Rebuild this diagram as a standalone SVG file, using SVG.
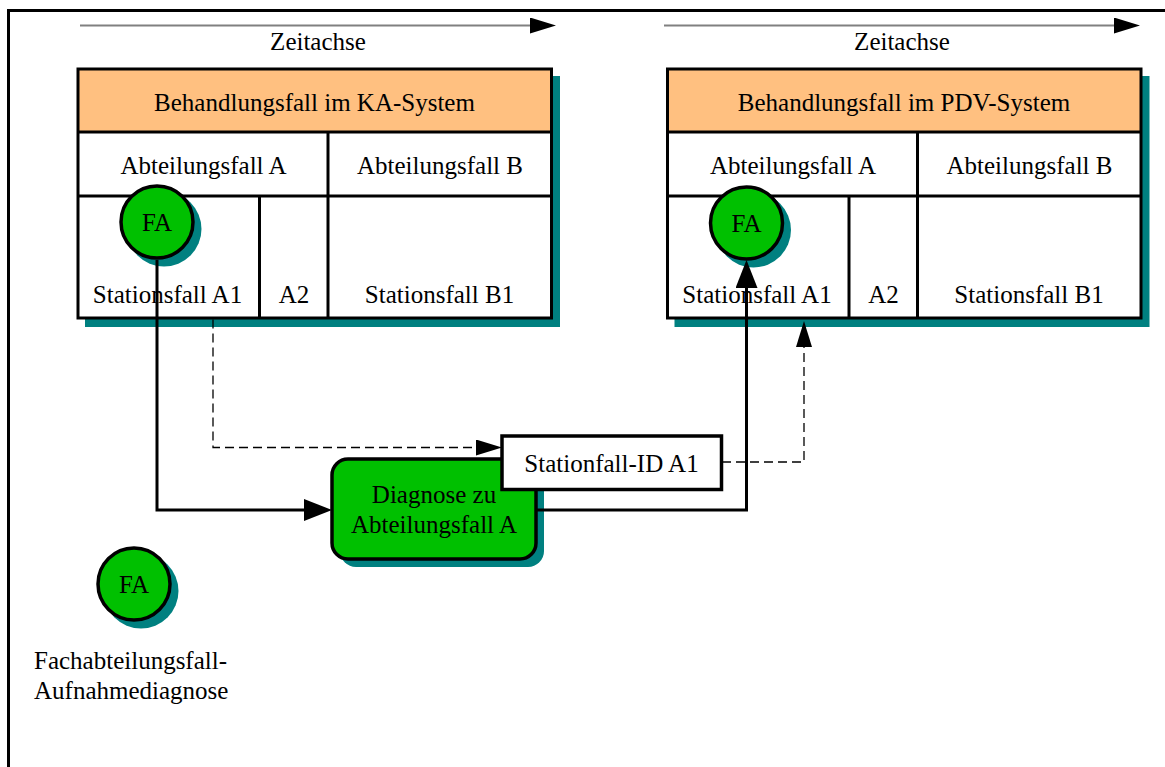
<svg xmlns="http://www.w3.org/2000/svg" width="1165" height="767" viewBox="0 0 1165 767">
  <style>
    .t { font-family: "Liberation Serif", "Times New Roman", serif; font-size: 25px; fill: #000; text-anchor: middle; }
    .tl { text-anchor: start; }
    .edge { fill: none; stroke: #000; stroke-width: 3; }
    .shadow { fill: #008080; stroke: none; }
    .head { fill: #FFC080; stroke: none; }
    .cell { fill: #FFFFFF; stroke: none; }
    .frame { fill: none; stroke: #000; stroke-width: 3; }
    .green { fill: #00C000; stroke: #000; stroke-width: 3.5; }
    .axis { fill: none; stroke: #808080; stroke-width: 2; }
    .flow { fill: none; stroke: #000; stroke-width: 3; }
    .dash { fill: none; stroke: #000; stroke-width: 1.3; stroke-dasharray: 9 5; }
  </style>
  <defs>
    <marker id="axisHead" markerUnits="userSpaceOnUse" viewBox="0 0 26 16" markerWidth="26" markerHeight="16" refX="0" refY="8" orient="auto">
      <path d="M0,0 L26,8 L0,16 Z" fill="#000"/>
    </marker>
    <marker id="flowHead" markerUnits="userSpaceOnUse" viewBox="0 0 28 22" markerWidth="28" markerHeight="22" refX="0" refY="11" orient="auto">
      <path d="M0,0 L28,11 L0,22 Z" fill="#000"/>
    </marker>
    <marker id="dashHead" markerUnits="userSpaceOnUse" viewBox="0 0 26 16" markerWidth="26" markerHeight="16" refX="0" refY="8" orient="auto">
      <path d="M0,0 L26,8 L0,16 Z" fill="#000"/>
    </marker>
  </defs>

  <rect width="1165" height="767" fill="#FFFFFF"/>
  <!-- page frame -->
  <path class="frame" d="M8.5,767 V10.5 H1165"/>

  <!-- time axes -->
  <g id="axis-ka">
    <line class="axis" x1="80" y1="25.5" x2="530" y2="25.5" marker-end="url(#axisHead)"/>
    <text class="t" x="318" y="50">Zeitachse</text>
  </g>
  <g id="axis-pdv">
    <line class="axis" x1="664" y1="25.5" x2="1114" y2="25.5" marker-end="url(#axisHead)"/>
    <text class="t" x="902" y="50">Zeitachse</text>
  </g>

  <!-- treatment case in the KA system -->
  <g id="case-ka">
    <rect class="shadow" x="85" y="76" width="475" height="251"/>
    <rect class="cell" x="78" y="69" width="473.5" height="249"/>
    <rect class="head" x="78" y="69" width="473.5" height="63"/>
    <rect class="edge" x="78" y="69" width="473.5" height="249"/>
    <line class="edge" x1="78" y1="132" x2="551.5" y2="132"/>
    <line class="edge" x1="78" y1="196" x2="551.5" y2="196"/>
    <line class="edge" x1="328" y1="132" x2="328" y2="318"/>
    <line class="edge" x1="259.5" y1="196" x2="259.5" y2="318" stroke-width="4.5"/>
    <text class="t" x="314.5" y="111">Behandlungsfall im KA-System</text>
    <text class="t" x="203.5" y="174">Abteilungsfall A</text>
    <text class="t" x="440" y="174">Abteilungsfall B</text>
    <text class="t" x="167.5" y="303">Stationsfall A1</text>
    <text class="t" x="294" y="303">A2</text>
    <text class="t" x="439.5" y="303">Stationsfall B1</text>
  </g>

  <!-- treatment case in the PDV system -->
  <g id="case-pdv" transform="translate(589.5,0)">
    <rect class="shadow" x="85" y="76" width="475" height="251"/>
    <rect class="cell" x="78" y="69" width="473.5" height="249"/>
    <rect class="head" x="78" y="69" width="473.5" height="63"/>
    <rect class="edge" x="78" y="69" width="473.5" height="249"/>
    <line class="edge" x1="78" y1="132" x2="551.5" y2="132"/>
    <line class="edge" x1="78" y1="196" x2="551.5" y2="196"/>
    <line class="edge" x1="328" y1="132" x2="328" y2="318"/>
    <line class="edge" x1="259.5" y1="196" x2="259.5" y2="318" stroke-width="4.5"/>
    <text class="t" x="314.5" y="111">Behandlungsfall im PDV-System</text>
    <text class="t" x="203.5" y="174">Abteilungsfall A</text>
    <text class="t" x="440" y="174">Abteilungsfall B</text>
    <text class="t" x="167.5" y="303">Stationsfall A1</text>
    <text class="t" x="294" y="303">A2</text>
    <text class="t" x="439.5" y="303">Stationsfall B1</text>
  </g>

  <!-- admission diagnosis markers -->
  <g id="fa-ka">
    <circle class="shadow" cx="164" cy="229" r="37.5"/>
    <circle class="green" cx="157" cy="222" r="36"/>
    <text class="t" x="157" y="231">FA</text>
  </g>
  <g id="fa-pdv">
    <circle class="shadow" cx="753.5" cy="230" r="37.5"/>
    <circle class="green" cx="746.5" cy="223" r="36"/>
    <text class="t" x="746.5" y="232">FA</text>
  </g>

  <!-- diagnosis for department case A -->
  <g id="diagnose">
    <rect class="shadow" x="340" y="467" width="204" height="100" rx="16"/>
    <rect class="green" x="332" y="459" width="204" height="100" rx="16"/>
    <text class="t" x="434" y="503">Diagnose zu</text>
    <text class="t" x="434" y="533">Abteilungsfall A</text>
  </g>

  <!-- ward case identifier -->
  <g id="station-id">
    <rect x="502" y="436" width="219.5" height="53.5" fill="#FFFFFF" stroke="#000" stroke-width="3.5"/>
    <text class="t" x="611.5" y="472">Stationfall-ID A1</text>
  </g>

  <!-- legend -->
  <g id="legend">
    <circle class="shadow" cx="141" cy="591" r="37.5"/>
    <circle class="green" cx="134" cy="584" r="36"/>
    <text class="t" x="134" y="593">FA</text>
    <text class="t tl" x="34" y="669">Fachabteilungsfall-</text>
    <text class="t tl" x="34" y="699">Aufnahmediagnose</text>
  </g>

  <g id="connectors">
    <path class="flow" d="M157,260 V510 H304" marker-end="url(#flowHead)"/>
    <path class="flow" d="M536,510 H746.5 V288" marker-end="url(#flowHead)"/>
    <path class="dash" d="M213,319.5 V447.5 H476" marker-end="url(#dashHead)"/>
    <path class="dash" d="M722,462 H804 V347" marker-end="url(#dashHead)"/>
  </g>
</svg>
